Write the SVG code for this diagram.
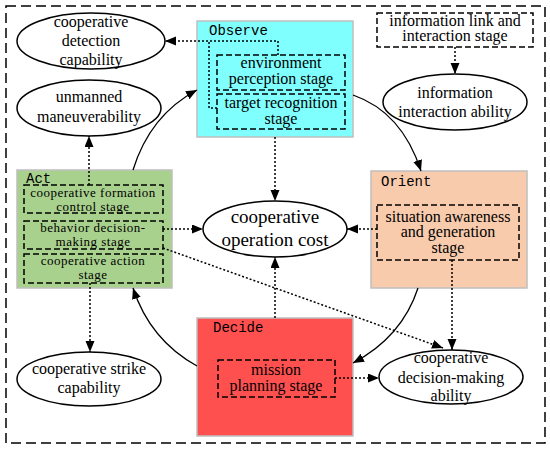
<svg xmlns="http://www.w3.org/2000/svg" width="550" height="449" viewBox="0 0 550 449">
<style>
.t{font-family:'Liberation Serif','Times New Roman','DejaVu Serif',serif;font-size:16px;fill:#000;text-anchor:middle}
.s{font-size:13px;letter-spacing:0.5px}
.big{font-size:19px}
.lab{font-family:'Liberation Mono','DejaVu Sans Mono',monospace;font-size:14px;fill:#000}
.el{fill:#fff;stroke:#000;stroke-width:1.5}
.dbox{fill:none;stroke:#000;stroke-width:1.5;stroke-dasharray:6,3}
.grp{stroke:#bfbfbf;stroke-width:1.5}
.dot{fill:none;stroke:#000;stroke-width:1.5;stroke-dasharray:2,2}
.sol{fill:none;stroke:#000;stroke-width:1.3}
</style>
<defs>
<marker id="ah" markerUnits="userSpaceOnUse" markerWidth="12" markerHeight="10" refX="11" refY="4.5" orient="auto">
<path d="M0,0 L11,4.5 L0,9 z" fill="#000"/>
</marker>
</defs>
<rect x="0" y="0" width="550" height="449" fill="#fff"/>
<rect x="6" y="6" width="539" height="437" fill="none" stroke="#000" stroke-width="1.5" stroke-dasharray="10,5"/>

<g id="observe">
<rect class="grp" x="197" y="21" width="156" height="116" fill="#80ffff"/>
<text class="lab" x="209" y="35">Observe</text>
<rect class="dbox" x="217" y="55" width="128" height="35"/>
<text class="t" x="281" y="68">environment</text>
<text class="t" x="281" y="84">perception stage</text>
<rect class="dbox" x="217" y="94" width="128" height="35"/>
<text class="t" x="281" y="108">target recognition</text>
<text class="t" x="281" y="124">stage</text>
</g>

<g id="orient">
<rect class="grp" x="371" y="171" width="156" height="117" fill="#f8cbad"/>
<text class="lab" x="381" y="186">Orient</text>
<rect class="dbox" x="377" y="205" width="142" height="55"/>
<text class="t" x="448" y="222">situation awareness</text>
<text class="t" x="448" y="237">and generation</text>
<text class="t" x="448" y="253">stage</text>
</g>

<g id="decide">
<rect class="grp" x="197" y="318" width="156" height="118" fill="#ff5050"/>
<text class="lab" x="213" y="332">Decide</text>
<rect class="dbox" x="218" y="360" width="117" height="37"/>
<text class="t" x="276" y="375">mission</text>
<text class="t" x="276" y="391">planning stage</text>
</g>

<g id="act">
<rect class="grp" x="17" y="170" width="155" height="118" fill="#a9d18e"/>
<text class="lab" x="26" y="183">Act</text>
<rect class="dbox" x="24" y="185" width="139" height="28"/>
<text class="t s" x="93" y="197">cooperative formation</text>
<text class="t s" x="93" y="211">control stage</text>
<rect class="dbox" x="24" y="221" width="139" height="28"/>
<text class="t s" x="93" y="232">behavior decision-</text>
<text class="t s" x="93" y="246">making stage</text>
<rect class="dbox" x="24" y="254" width="139" height="29"/>
<text class="t s" x="93" y="265">cooperative action</text>
<text class="t s" x="93" y="279">stage</text>
</g>

<g id="info-link">
<rect class="dbox" x="377" y="13" width="156" height="34"/>
<text class="t" x="455" y="26">information link and</text>
<text class="t" x="455" y="41">interaction stage</text>
</g>

<g id="detection">
<ellipse class="el" cx="91" cy="41" rx="74" ry="28"/>
<text class="t" x="91" y="27">cooperative</text>
<text class="t" x="91" y="46">detection</text>
<text class="t" x="91" y="65">capability</text>
</g>

<g id="maneuver">
<ellipse class="el" cx="89" cy="108" rx="72" ry="28"/>
<text class="t" x="89" y="102">unmanned</text>
<text class="t" x="89" y="122">maneuverability</text>
</g>

<g id="interaction">
<ellipse class="el" cx="455" cy="102" rx="72" ry="28"/>
<text class="t" x="455" y="98">information</text>
<text class="t" x="455" y="117">interaction ability</text>
</g>

<g id="cost">
<ellipse class="el" cx="275" cy="229" rx="72" ry="28"/>
<text class="t big" x="275" y="223">cooperative</text>
<text class="t big" x="275" y="246">operation cost</text>
</g>

<g id="strike">
<ellipse class="el" cx="89" cy="379" rx="72" ry="27"/>
<text class="t" x="89" y="374">cooperative strike</text>
<text class="t" x="89" y="393">capability</text>
</g>

<g id="decision">
<ellipse class="el" cx="451" cy="377" rx="72" ry="27"/>
<text class="t" x="451" y="363">cooperative</text>
<text class="t" x="451" y="383">decision-making</text>
<text class="t" x="451" y="401">ability</text>
</g>

<g id="connectors">
<path class="dot" d="M278,55 V41 H165" marker-end="url(#ah)"/>
<path class="dot" d="M217,108 H209 V41"/>
<path class="dot" d="M455,47 V74" marker-end="url(#ah)"/>
<path class="dot" d="M89,185 V136" marker-end="url(#ah)"/>
<path class="dot" d="M275,137 V201" marker-end="url(#ah)"/>
<path class="dot" d="M163,229 H203" marker-end="url(#ah)"/>
<path class="dot" d="M377,229 H347" marker-end="url(#ah)"/>
<path class="dot" d="M275,318 V257" marker-end="url(#ah)"/>
<path class="dot" d="M452,260 V350" marker-end="url(#ah)"/>
<path class="dot" d="M163,248 L443,348" marker-end="url(#ah)"/>
<path class="dot" d="M335,378 H379" marker-end="url(#ah)"/>
<path class="dot" d="M90,283 V352" marker-end="url(#ah)"/>
<path class="sol" d="M133,170 Q150,115 197,90" marker-end="url(#ah)"/>
<path class="sol" d="M353,95 Q402,112 421,171" marker-end="url(#ah)"/>
<path class="sol" d="M418,288 Q402,337 353,363" marker-end="url(#ah)"/>
<path class="sol" d="M197,366 Q150,340 133,288" marker-end="url(#ah)"/>
</g>
</svg>
